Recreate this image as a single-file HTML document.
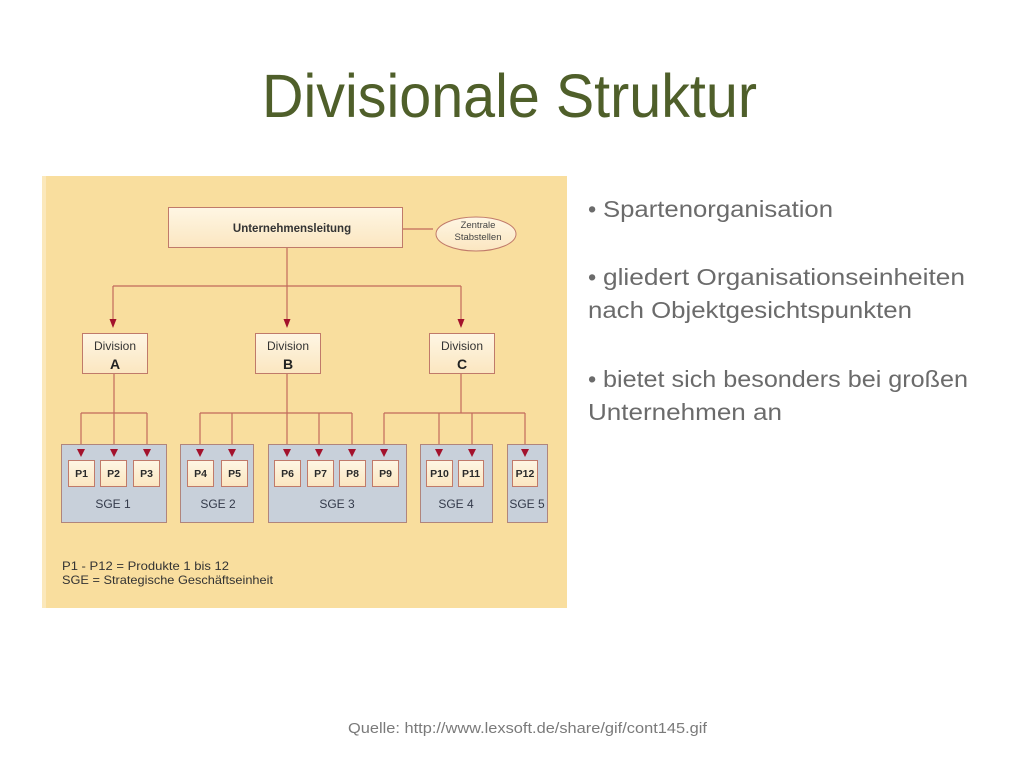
<!DOCTYPE html>
<html><head><meta charset="utf-8"><style>
html,body{margin:0;padding:0;background:#fff;}
svg{display:block;}
</style></head><body>
<svg width="1024" height="768" viewBox="0 0 1024 768" xmlns="http://www.w3.org/2000/svg" font-family="Liberation Sans, Arial, sans-serif">
<rect width="1024" height="768" fill="#ffffff"/>
<!-- Title -->
<text x="262" y="117" font-size="61" fill="#4f5f2a" textLength="495" lengthAdjust="spacingAndGlyphs">Divisionale Struktur</text>

<!-- Diagram background -->
<rect x="42" y="176" width="525" height="432" fill="#f9de9e"/>
<rect x="42" y="176" width="4" height="432" fill="#fbe8bb"/>

<defs>
<linearGradient id="bx" x1="0" y1="0" x2="0" y2="1">
<stop offset="0" stop-color="#fef6e4"/><stop offset="1" stop-color="#fbe6c0"/>
</linearGradient>
</defs>

<!-- connectors -->
<g stroke="#c26a5c" stroke-width="1.2" fill="none">
<line x1="287" y1="247" x2="287" y2="322"/>
<line x1="113" y1="286" x2="461" y2="286"/>
<line x1="113" y1="286" x2="113" y2="322"/>
<line x1="461" y1="286" x2="461" y2="322"/>
<line x1="402" y1="229" x2="433" y2="229"/>
<!-- A -->
<line x1="114" y1="373" x2="114" y2="452"/>
<line x1="81" y1="413" x2="147" y2="413"/>
<line x1="81" y1="413" x2="81" y2="452"/>
<line x1="147" y1="413" x2="147" y2="452"/>
<!-- B -->
<line x1="287" y1="373" x2="287" y2="452"/>
<line x1="200" y1="413" x2="352" y2="413"/>
<line x1="200" y1="413" x2="200" y2="452"/>
<line x1="232" y1="413" x2="232" y2="452"/>
<line x1="319" y1="413" x2="319" y2="452"/>
<line x1="352" y1="413" x2="352" y2="452"/>
<!-- C -->
<line x1="461" y1="373" x2="461" y2="413"/>
<line x1="384" y1="413" x2="525" y2="413"/>
<line x1="384" y1="413" x2="384" y2="452"/>
<line x1="439" y1="413" x2="439" y2="452"/>
<line x1="472" y1="413" x2="472" y2="452"/>
<line x1="525" y1="413" x2="525" y2="452"/>
</g>

<!-- division arrowheads -->
<g fill="#a3122c">
<polygon points="109.5,319 116.5,319 113,328"/>
<polygon points="283.5,319 290.5,319 287,328"/>
<polygon points="457.5,319 464.5,319 461,328"/>
</g>

<!-- Top box -->
<rect x="168.5" y="207.5" width="234" height="40" fill="url(#bx)" stroke="#c07a6a" stroke-width="1"/>
<text x="292" y="232" font-size="11.5" font-weight="bold" fill="#333" text-anchor="middle">Unternehmensleitung</text>
<ellipse cx="476" cy="234" rx="40" ry="17" fill="url(#bx)" stroke="#c07a6a" stroke-width="1"/>
<text x="478" y="228" font-size="9.5" fill="#444" text-anchor="middle">Zentrale</text>
<text x="478" y="240" font-size="9.5" fill="#444" text-anchor="middle">Stabstellen</text>

<!-- Division boxes -->
<g stroke="#c07a6a" stroke-width="1" fill="url(#bx)">
<rect x="82.5" y="333.5" width="65" height="40"/>
<rect x="255.5" y="333.5" width="65" height="40"/>
<rect x="429.5" y="333.5" width="65" height="40"/>
</g>
<g fill="#333" text-anchor="middle">
<text x="115" y="350" font-size="12">Division</text>
<text x="115" y="369" font-size="14" font-weight="bold" fill="#222">A</text>
<text x="288" y="350" font-size="12">Division</text>
<text x="288" y="369" font-size="14" font-weight="bold" fill="#222">B</text>
<text x="462" y="350" font-size="12">Division</text>
<text x="462" y="369" font-size="14" font-weight="bold" fill="#222">C</text>
</g>

<!-- SGE boxes -->
<g fill="#c8d0da" stroke="#b0857c" stroke-width="1">
<rect x="61.5" y="444.5" width="105" height="78"/>
<rect x="180.5" y="444.5" width="73" height="78"/>
<rect x="268.5" y="444.5" width="138" height="78"/>
<rect x="420.5" y="444.5" width="72" height="78"/>
<rect x="507.5" y="444.5" width="40" height="78"/>
</g>

<!-- P arrowheads -->
<g fill="#a3122c">
<polygon points="77,449 85,449 81,457"/>
<polygon points="110,449 118,449 114,457"/>
<polygon points="143,449 151,449 147,457"/>
<polygon points="196,449 204,449 200,457"/>
<polygon points="228,449 236,449 232,457"/>
<polygon points="283,449 291,449 287,457"/>
<polygon points="315,449 323,449 319,457"/>
<polygon points="348,449 356,449 352,457"/>
<polygon points="380,449 388,449 384,457"/>
<polygon points="435,449 443,449 439,457"/>
<polygon points="468,449 476,449 472,457"/>
<polygon points="521,449 529,449 525,457"/>
</g>

<!-- P boxes -->
<g fill="url(#bx)" stroke="#c07a6a" stroke-width="1">
<rect x="68.5" y="460.5" width="26" height="26"/>
<rect x="100.5" y="460.5" width="26" height="26"/>
<rect x="133.5" y="460.5" width="26" height="26"/>
<rect x="187.5" y="460.5" width="26" height="26"/>
<rect x="221.5" y="460.5" width="26" height="26"/>
<rect x="274.5" y="460.5" width="26" height="26"/>
<rect x="307.5" y="460.5" width="26" height="26"/>
<rect x="339.5" y="460.5" width="26" height="26"/>
<rect x="372.5" y="460.5" width="26" height="26"/>
<rect x="426.5" y="460.5" width="26" height="26"/>
<rect x="458.5" y="460.5" width="25" height="26"/>
<rect x="512.5" y="460.5" width="25" height="26"/>
</g>
<g font-size="10.5" font-weight="bold" fill="#2a2a2a" text-anchor="middle">
<text x="81.5" y="477">P1</text>
<text x="113.5" y="477">P2</text>
<text x="146.5" y="477">P3</text>
<text x="200.5" y="477">P4</text>
<text x="234.5" y="477">P5</text>
<text x="287.5" y="477">P6</text>
<text x="320.5" y="477">P7</text>
<text x="352.5" y="477">P8</text>
<text x="385.5" y="477">P9</text>
<text x="439.5" y="477">P10</text>
<text x="471" y="477">P11</text>
<text x="525" y="477">P12</text>
</g>
<g font-size="12" fill="#333a4a" text-anchor="middle">
<text x="113" y="508">SGE 1</text>
<text x="218" y="508">SGE 2</text>
<text x="337" y="508">SGE 3</text>
<text x="456" y="508">SGE 4</text>
<text x="527" y="508">SGE 5</text>
</g>

<!-- legend -->
<g font-size="12" fill="#333">
<text x="62" y="570" textLength="167" lengthAdjust="spacingAndGlyphs">P1 - P12 =  Produkte 1 bis 12</text>
<text x="62" y="584" textLength="211" lengthAdjust="spacingAndGlyphs">SGE = Strategische Geschäftseinheit</text>
</g>

<!-- right text -->
<g font-size="23.5" fill="#6b6b6b">
<text x="588" y="217">•</text>
<text x="603" y="217" textLength="230" lengthAdjust="spacingAndGlyphs">Spartenorganisation</text>
<text x="588" y="285">•</text>
<text x="603" y="285" textLength="362" lengthAdjust="spacingAndGlyphs">gliedert Organisationseinheiten</text>
<text x="588" y="318" textLength="324" lengthAdjust="spacingAndGlyphs">nach Objektgesichtspunkten</text>
<text x="588" y="387">•</text>
<text x="603" y="387" textLength="365" lengthAdjust="spacingAndGlyphs">bietet sich besonders bei großen</text>
<text x="588" y="420" textLength="194" lengthAdjust="spacingAndGlyphs">Unternehmen an</text>
</g>

<!-- footer -->
<text x="348" y="733" font-size="14.5" fill="#7a7a7a" textLength="359" lengthAdjust="spacingAndGlyphs">Quelle: http://www.lexsoft.de/share/gif/cont145.gif</text>
</svg>
</body></html>
